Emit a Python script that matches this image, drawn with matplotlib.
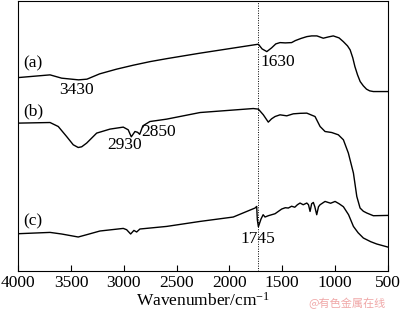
import matplotlib
matplotlib.use("Agg")
import matplotlib.pyplot as plt

# FTIR spectra, transmittance in arbitrary offset units
WN_A = [4000, 3700, 3590, 3430, 3350, 3230, 3070, 2910, 2750, 2590, 2280,
        1725, 1690, 1645, 1600, 1560, 1520, 1470, 1410, 1375, 1320, 1265,
        1220, 1170, 1110, 1060, 1015, 960, 920, 880, 855, 830, 810, 785,
        760, 730, 700, 670, 635, 500]
T_A = [193.3, 196, 192.7, 191, 191.7, 197, 201.7, 205.7, 209.3, 212.3, 217.7,
       226.7, 222, 219.3, 223, 227, 228.3, 228, 228.3, 230.3, 232.5, 234.3,
       235, 235, 232.7, 234, 235, 233, 229.3, 225, 221, 213, 204.3, 196,
       189.3, 185, 181.7, 180, 179.3, 179.3]

WN_B = [4000, 3700, 3622, 3543, 3480, 3433, 3400, 3353, 3258, 3132, 3006,
        2959, 2930, 2895, 2870, 2850, 2820, 2753, 2594, 2278, 1773, 1725,
        1678, 1631, 1600, 1567, 1520, 1456, 1394, 1330, 1266, 1188, 1140,
        1093, 1030, 967, 919, 872, 824, 792, 761, 730, 697, 635, 500]
T_B = [147.7, 148.3, 144.3, 134.3, 126, 123.3, 124, 127.7, 137.7, 141.7, 143.7,
       141, 134, 139.3, 138.5, 136.5, 145, 149.3, 151.7, 158.3, 162.3, 161.7,
       156, 148.7, 152, 154.3, 156, 155, 157, 157.5, 157.7, 154.3, 144.3,
       139.3, 138.3, 136, 131, 117.7, 97.7, 74.3, 62.7, 59.5, 57.7, 55, 55.3]

WN_C = [4000, 3700, 3590, 3433, 3353, 3227, 3006, 2974, 2936, 2905, 2879,
        2848, 2594, 2278, 1963, 1757, 1741, 1735, 1725, 1700, 1680, 1662,
        1631, 1567, 1504, 1470, 1441, 1410, 1380, 1355, 1330, 1300, 1266,
        1250, 1235, 1220, 1204, 1190, 1172, 1155, 1140, 1093, 1040, 998,
        960, 919, 870, 824, 780, 730, 660, 603, 500]
T_C = [37, 38.3, 36.7, 33.7, 36, 39.7, 42.3, 41, 36.7, 40.3, 38.7,
       41.7, 44.3, 49.3, 53.7, 62.7, 64.3, 51, 44, 51.7, 56, 53.7,
       55, 57, 61.7, 63, 62.7, 64.5, 63.5, 66, 67.7, 66, 67.7,
       66, 59.3, 67, 68.3, 64, 56, 64, 66, 69.3, 67.5, 69.3,
       67, 64, 56, 44.3, 38, 32.7, 29, 26.7, 23.7]

MARK_WN = 1725
XTICKS = [4000, 3500, 3000, 2500, 2000, 1500, 1000, 500]

LABELS = [("(a)", 3862, 207.5), ("3430", 3445, 181),
          ("(b)", 3862, 159), ("2930", 2990, 126), ("2850", 2672, 139),
          ("1630", 1543, 209),
          ("(c)", 3862, 49), ("1745", 1733, 32)]

plt.rcParams["font.family"] = ["Liberation Serif", "DejaVu Serif"]
plt.rcParams["mathtext.fontset"] = "custom"
plt.rcParams["mathtext.rm"] = "Liberation Serif"
plt.rcParams["mathtext.it"] = "Liberation Serif:italic"
plt.rcParams["mathtext.default"] = "regular"

fig = plt.figure(figsize=(4.0, 3.14), dpi=100)
ax = fig.add_axes([0.046, 0.138, 0.923, 0.859])

for wn, t in [(WN_A, T_A), (WN_B, T_B), (WN_C, T_C)]:
    ax.plot(wn, t, color="black", linewidth=1.0)

ax.axvline(MARK_WN, color="black", linestyle=(0, (1, 1.5)), linewidth=0.7)

for txt, x, y in LABELS:
    ax.text(x, y, txt, fontsize=12.5, ha="center", va="center")

ax.set_xlim(4000, 500)
ax.set_ylim(0, 270)
ax.set_xticks(XTICKS)
ax.set_yticks([])
ax.tick_params(axis="x", direction="in", length=4, width=0.8,
               labelsize=12.5, pad=3, top=False)
for s in ax.spines.values():
    s.set_linewidth(0.8)
ax.set_xlabel("Wavenumber/cm$^{-1}$", fontsize=12.5, labelpad=1)

fig.text(0.965, 0.035, "@有色金属在线", fontsize=8, color="#f0a8a8",
         ha="right", va="center",
         family=["Noto Sans CJK SC", "DejaVu Sans"])

fig.savefig("out.png", dpi=100)
